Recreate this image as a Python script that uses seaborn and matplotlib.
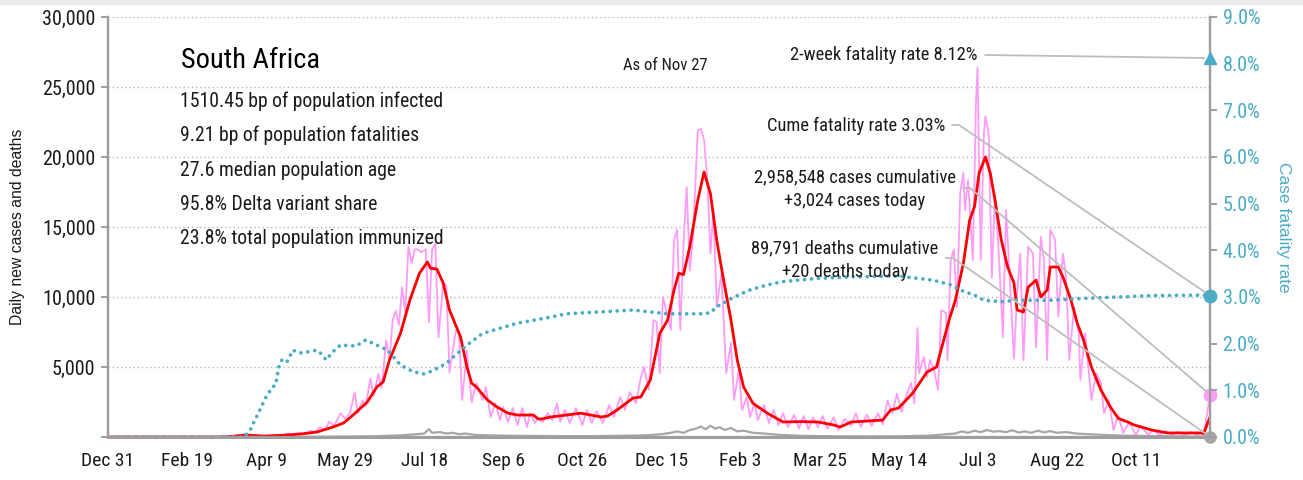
import matplotlib
matplotlib.use("Agg")
import matplotlib.pyplot as plt
import matplotlib.dates as mdates
from matplotlib import font_manager
import pandas as pd
import seaborn as sns

# ---------------------------------------------------------------- data
start = pd.Timestamp("2019-12-31")
as_of = "Nov 27"
country = "South Africa"
stats = [
    "1510.45 bp of population infected",
    "9.21 bp of population fatalities",
    "27.6 median population age",
    "95.8% Delta variant share",
    "23.8% total population immunized",
]

# daily reported cases (day offset from Dec 31, 2019)
case_days = [0, 60, 66, 70, 75, 80, 84, 86, 88, 90, 93, 96, 100, 103, 107, 110, 114, 117,
             121, 124, 128, 131, 134, 137, 140, 143, 147, 150, 153, 156, 158, 161, 163, 166,
             168, 171, 173, 175, 176, 178, 180, 182, 184, 186, 188, 190, 192, 194, 196, 198,
             201, 203, 205, 207, 209, 212, 214, 216, 220, 222, 224, 227, 230, 233, 237, 239,
             242, 245, 248, 250, 253, 256, 259, 262, 265, 267, 270, 272, 275, 278, 281, 284,
             286, 289, 292, 296, 300, 303, 306, 309, 313, 317, 320, 324, 327, 330, 334, 337,
             339, 342, 345, 347, 349, 351, 353, 356, 358, 360, 362, 364, 366, 368, 370, 373,
             375, 377, 379, 381, 383, 385, 388, 391, 394, 396, 399, 401, 404, 406, 409, 411,
             415, 418, 421, 424, 427, 430, 434, 437, 440, 443, 446, 449, 452, 455, 459, 462,
             466, 470, 473, 476, 480, 483, 487, 490, 493, 496, 499, 502, 505, 508, 510, 512,
             513, 516, 518, 520, 523, 525, 527, 530, 531, 533, 535, 537, 539, 541, 542, 544,
             547, 549, 550, 551, 552, 554, 555, 557, 559, 561, 563, 566, 568, 570, 573, 575,
             577, 579, 582, 585, 587, 590, 592, 594, 596, 599, 601, 604, 606, 608, 611, 614,
             615, 618, 622, 625, 628, 630, 633, 636, 639, 642, 646, 650, 653, 658, 661, 665,
             669, 673, 677, 681, 685, 689, 691, 693, 697]
daily_cases = [0, 0, 0, 5, 20, 60, 120, 200, 100, 150, 80, 60, 90, 60, 150, 120, 250, 200,
               300, 200, 450, 350, 700, 500, 1100, 800, 1700, 1300, 1700, 3200, 1700, 2600,
               2200, 4200, 2900, 4500, 3500, 5800, 6900, 5500, 8300, 9000, 8000, 10700, 8900,
               13600, 12400, 13400, 13400, 13200, 13400, 8200, 13400, 13800, 7100, 11000,
               10800, 4600, 7600, 7400, 2640, 6200, 2500, 3850, 2640, 3570, 1430, 2400, 1210,
               2140, 1070, 2070, 860, 2070, 710, 1700, 1000, 1330, 1070, 1700, 1210, 2400,
               1070, 1930, 1000, 2070, 860, 1930, 1000, 1850, 1000, 2280, 1430, 2860, 1930,
               3210, 2400, 4290, 5000, 3360, 8360, 8200, 4560, 10000, 9070, 7640, 14070,
               14800, 7640, 13800, 17860, 11900, 14300, 21900, 22000, 21200, 18600, 13100,
               16200, 9300, 11700, 4560, 6700, 2640, 4790, 1930, 2860, 1430, 2400, 1210, 2280,
               1000, 1930, 860, 1700, 710, 1570, 600, 1500, 550, 1400, 700, 1500, 600, 1400,
               500, 1300, 800, 1700, 710, 1600, 800, 1700, 900, 2600, 1700, 3100, 1800, 3000,
               3860, 2400, 7780, 4560, 5710, 4290, 5500, 4500, 3360, 9070, 8860, 5500, 12640,
               13400, 9300, 17400, 18860, 16200, 18350, 12640, 24000, 26400, 19000, 12640,
               21700, 22900, 21700, 11400, 17400, 14000, 7140, 16200, 12100, 5600, 10260,
               13100, 5500, 13600, 13100, 6400, 14300, 12600, 5500, 14800, 14100, 8600, 13100,
               11400, 5500, 9300, 7400, 4070, 7400, 2640, 4560, 3850, 1700, 2640, 500, 1570,
               290, 1070, 140, 790, 150, 500, 150, 430, 150, 360, 120, 350, 150, 300, 140,
               3024]

# seven-day average of cases
avg_days = [0, 63, 70, 77, 84, 88, 92, 98, 100, 110, 121, 132, 142, 149, 155, 164, 170, 174,
            178, 185, 191, 197, 202, 204, 208, 212, 216, 223, 227, 230, 233, 240, 246, 253,
            259, 269, 272, 274, 280, 290, 299, 312, 316, 322, 332, 337, 343, 349, 354, 358,
            361, 364, 368, 373, 377, 381, 385, 389, 394, 398, 402, 408, 417, 427, 438, 449,
            459, 463, 470, 490, 495, 500, 509, 518, 524, 532, 536, 541, 545, 548, 551, 555,
            558, 561, 565, 569, 573, 575, 579, 582, 587, 590, 594, 596, 601, 604, 609, 613,
            617, 622, 628, 634, 639, 645, 649, 660, 670, 681, 691, 693, 697]
avg_cases = [0, 0, 3, 30, 110, 140, 110, 70, 70, 120, 200, 350, 700, 1000, 1570, 2500, 3570,
             3930, 5500, 7400, 9800, 11700, 12500, 12050, 12000, 11000, 9070, 7140, 5000,
             3850, 3570, 2640, 2150, 1700, 1570, 1570, 1300, 1280, 1430, 1570, 1700, 1430,
             1500, 1930, 2780, 2860, 4070, 7400, 8360, 10500, 11700, 11600, 13600, 16900,
             18930, 17400, 14070, 11430, 8360, 5500, 3570, 2400, 1700, 1070, 1100, 1070, 860,
             710, 1070, 1210, 1930, 2070, 3140, 4640, 5000, 8360, 9800, 12400, 15500, 16430,
             18860, 20000, 18860, 16930, 14070, 12140, 11000, 9070, 8930, 10700, 11210, 10000,
             10500, 12140, 12140, 11430, 9800, 8140, 6930, 5000, 3360, 2150, 1330, 1070, 860,
             500, 290, 290, 290, 250, 1430]

# daily reported deaths
death_days = [0, 80, 100, 130, 150, 170, 185, 195, 200, 203, 205, 210, 214, 218, 222, 226,
              232, 240, 250, 260, 280, 300, 320, 340, 350, 356, 360, 364, 368, 372, 375, 378,
              381, 384, 387, 390, 394, 398, 402, 408, 415, 425, 440, 460, 480, 500, 520, 530,
              536, 540, 544, 548, 552, 556, 560, 564, 568, 572, 576, 580, 584, 588, 592, 596,
              600, 606, 612, 620, 630, 640, 660, 680, 697]
daily_deaths = [0, 0, 5, 15, 30, 60, 120, 200, 250, 560, 300, 350, 250, 300, 200, 250, 150,
                120, 100, 80, 70, 60, 80, 120, 200, 300, 400, 300, 500, 600, 750, 550, 800,
                600, 700, 500, 650, 400, 450, 300, 250, 150, 80, 50, 40, 50, 100, 200, 250,
                400, 300, 450, 350, 500, 380, 420, 350, 480, 320, 400, 300, 450, 330, 420, 300,
                350, 250, 200, 150, 100, 70, 40, 20]

# cumulative case fatality rate, percent
cfr_days = [0, 86, 90, 92, 95, 98, 100, 104, 106, 108, 110, 113, 117, 121, 126, 132, 135, 138,
            142, 147, 151, 157, 163, 168, 177, 185, 193, 200, 206, 214, 227, 237, 248, 259,
            269, 280, 290, 311, 332, 343, 354, 375, 381, 385, 396, 406, 417, 427, 449, 470,
            500, 522, 533, 539, 548, 554, 565, 575, 596, 617, 639, 660, 691, 697]
cfr_pct = [0, 0, 0.15, 0.3, 0.5, 0.72, 0.86, 1.07, 1.11, 1.5, 1.65, 1.6, 1.86, 1.8, 1.82,
           1.86, 1.78, 1.65, 1.82, 1.97, 1.96, 1.95, 2.08, 2.0, 1.86, 1.54, 1.4, 1.35, 1.43,
           1.58, 1.97, 2.22, 2.33, 2.44, 2.5, 2.57, 2.64, 2.68, 2.72, 2.68, 2.64, 2.64, 2.66,
           2.79, 3.0, 3.15, 3.26, 3.33, 3.4, 3.43, 3.45, 3.36, 3.26, 3.15, 3.04, 2.93, 2.9,
           2.93, 2.93, 2.97, 3.0, 3.03, 3.04, 3.03]

two_week_cfr = 8.12
cume_cfr = 3.03
cases_cum = 2958548
cases_today = 3024
deaths_cum = 89791
deaths_today = 20

# ---------------------------------------------------------------- style
PINK = "#ff9cf8"
RED = "#ff0000"
TEAL = "#4bacc6"
DEATH = "#a6a6a6"
LEADER = "#bdbdbd"
SPINE = "#9e9e9e"
TXT = "#1a1a1a"

sns.set_style("white")
installed = {f.name for f in font_manager.fontManager.ttflist}
condensed = [n for n in ("Liberation Sans Narrow", "Roboto Condensed", "Open Sans Condensed",
                         "Noto Sans Condensed", "DejaVu Sans Condensed") if n in installed]
MAIN = condensed[0] if condensed else "Liberation Sans"
plt.rcParams["font.family"] = [MAIN, "DejaVu Sans"]
plt.rcParams["font.stretch"] = "condensed"

W, H = 1303, 480


def fx(px):
    return px / W


def fy(py):
    return 1 - py / H


def to_dates(days):
    return start + pd.to_timedelta(days, unit="D")


fig = plt.figure(figsize=(W / 100, H / 100), dpi=100)
fig.patches.append(plt.Rectangle((0, fy(4)), 1, 4 / H, transform=fig.transFigure,
                                 color="#ececec", zorder=0))
ax = fig.add_axes([fx(108), fy(437), (1210 - 108) / W, (437 - 17) / H])
ax2 = ax.twinx()

end_date = to_dates([697])[0]
end_num = mdates.date2num(end_date)

sns.lineplot(x=to_dates(case_days), y=daily_cases, ax=ax, color=PINK, linewidth=1.3)
sns.lineplot(x=to_dates(death_days), y=daily_deaths, ax=ax, color=DEATH, linewidth=1.6)
sns.lineplot(x=to_dates(avg_days), y=avg_cases, ax=ax, color=RED, linewidth=2.0)
sns.lineplot(x=to_dates(cfr_days), y=cfr_pct, ax=ax2, color=TEAL, linewidth=2.7,
             linestyle=(0, (0.01, 1.85)), dash_capstyle="round")

# end-of-series markers
ax.plot([end_num], [cases_today], "o", color=PINK, ms=9, clip_on=False, zorder=6)
ax.plot([end_num], [deaths_today], "o", color=DEATH, ms=8, clip_on=False, zorder=6)
ax2.plot([end_num], [cume_cfr], "o", color=TEAL, ms=9, clip_on=False, zorder=6)
ax2.plot([end_num], [two_week_cfr], "^", color=TEAL, ms=8, clip_on=False, zorder=6)

# axes, ticks, grid
tick_dates = pd.date_range(start, periods=14, freq="50D")
ax.set_xlim(start, end_date)
ax.set_xticks(tick_dates)
ax.set_xticklabels([f"{d:%b} {d.day}" for d in tick_dates])
ax.set_ylim(0, 30000)
ax.set_yticks(range(0, 30001, 5000))
ax.set_yticklabels([""] + [f"{v:,}" for v in range(5000, 30001, 5000)])
ax2.set_ylim(0, 9)
ax2.set_yticks(range(0, 10))
ax2.set_yticklabels([f"{v:.1f}%" for v in range(0, 10)])

ax.yaxis.grid(True, linestyle=(0, (1, 2)), color="#b5b5b5", linewidth=1.0)
ax.xaxis.grid(False)
ax2.grid(False)

for a in (ax, ax2):
    for s in a.spines.values():
        s.set_color(SPINE)
        s.set_linewidth(1.6)
    a.spines["top"].set_visible(False)
ax.spines["bottom"].set_linewidth(2.2)

ax.tick_params(axis="x", direction="out", length=5, width=1.4, color=SPINE,
               labelsize=14, labelcolor=TXT, pad=6)
ax.tick_params(axis="y", direction="out", length=5, width=1.4, color=SPINE,
               labelsize=14.5, labelcolor=TXT, pad=4, left=True)
ax2.tick_params(axis="y", direction="out", length=5, width=1.4, color=SPINE,
                labelsize=14.5, labelcolor=TEAL, pad=4, right=True)

ax.set_xlabel("")
ax.set_ylabel("Daily new cases and deaths", fontsize=11.3, color=TXT,
              family=["Liberation Sans", "DejaVu Sans"])
ax.yaxis.set_label_coords(-0.0755, 0.5)
ax2.set_ylabel("Case fatality rate", fontsize=12.5, color=TEAL, rotation=270,
               family=["Liberation Sans", "DejaVu Sans"], va="center")
ax2.yaxis.set_label_coords(1.0665, 0.5)

# ---------------------------------------------------------------- text
fig.text(fx(181), fy(60), country, fontsize=20.5, color="#000000", va="center")
for i, line in enumerate(stats):
    fig.text(fx(180), fy(101 + 34.5 * i), line, fontsize=14.2, color=TXT, va="center")
fig.text(fx(665), fy(66), f"As of {as_of}", fontsize=12, color=TXT, ha="center", va="center")

fig.text(fx(978), fy(55), f"2-week fatality rate {two_week_cfr:.2f}%", fontsize=13.3,
         color=TXT, ha="right", va="center")
fig.text(fx(945), fy(126), f"Cume fatality rate {cume_cfr:.2f}%", fontsize=13.3,
         color=TXT, ha="right", va="center")
fig.text(fx(855), fy(177), f"{cases_cum:,} cases cumulative", fontsize=13.3, color=TXT,
         ha="center", va="center")
fig.text(fx(855), fy(201), f"+{cases_today:,} cases today", fontsize=13.3, color=TXT,
         ha="center", va="center")
fig.text(fx(845), fy(248), f"{deaths_cum:,} deaths cumulative", fontsize=13.3, color=TXT,
         ha="center", va="center")
fig.text(fx(845), fy(272), f"+{deaths_today:,} deaths today", fontsize=13.3, color=TXT,
         ha="center", va="center")


def leader(xy, transform, start_px, arm=7):
    ax2.annotate("", xy=xy, xycoords=transform,
                 xytext=(start_px[0], H - start_px[1]), textcoords="figure pixels",
                 annotation_clip=False,
                 arrowprops=dict(arrowstyle="-", color=LEADER, lw=1.3, shrinkA=0, shrinkB=4,
                                 connectionstyle=f"arc,angleA=0,angleB=0,armA={arm},armB=0,rad=0"))


leader((end_num, two_week_cfr), ax2.transData, (985, 55), arm=0)
leader((end_num, cume_cfr), ax2.transData, (952, 125))
leader((end_num, cases_today), ax.transData, (963, 188))
leader((end_num, deaths_today), ax.transData, (946, 258))

fig.savefig("out.png", dpi=100)
